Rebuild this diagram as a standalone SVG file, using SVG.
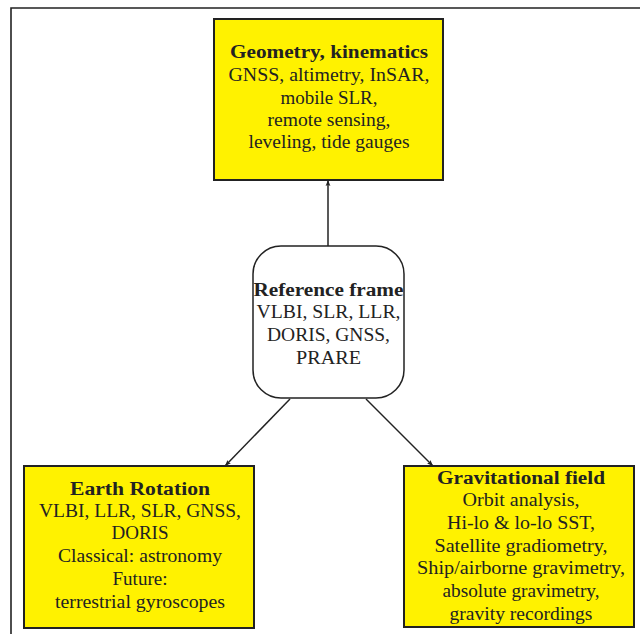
<svg xmlns="http://www.w3.org/2000/svg" width="640" height="634" viewBox="0 0 640 634">
<defs>
<style>
.box{fill:#fff200;stroke:#222;stroke-width:2}
.rbox{fill:#fff;stroke:#222;stroke-width:1.5}
text{font-family:"Liberation Serif","Times New Roman",serif;font-size:18px;fill:#222;text-anchor:middle}
.b{font-weight:bold}
.edge{stroke:#222;stroke-width:1.5;fill:none;marker-end:url(#ah)}
.frame{stroke:#222;stroke-width:1.6;fill:none}
</style>
<marker id="ah" viewBox="0 0 10 10" refX="10" refY="5" markerWidth="6" markerHeight="6" orient="auto" markerUnits="userSpaceOnUse">
<path d="M0,1 L10,5 L0,9 L2,5 Z" fill="#222"/>
</marker>
</defs>
<path class="frame" d="M640,8 H11 V634"/>
<g id="connectors">
<line class="edge" x1="328" y1="246" x2="328" y2="180"/>
<line class="edge" x1="290" y1="399" x2="225" y2="466"/>
<line class="edge" x1="366" y1="399" x2="433" y2="466"/>
</g>
<g id="geometry">
<rect class="box" x="214" y="19" width="229" height="161"/>
<text class="b" x="329" y="58" textLength="198" lengthAdjust="spacingAndGlyphs">Geometry, kinematics</text>
<text x="329" y="81" textLength="201" lengthAdjust="spacingAndGlyphs">GNSS, altimetry, InSAR,</text>
<text x="329" y="104" textLength="97" lengthAdjust="spacingAndGlyphs">mobile SLR,</text>
<text x="329" y="126" textLength="123" lengthAdjust="spacingAndGlyphs">remote sensing,</text>
<text x="329" y="148" textLength="161" lengthAdjust="spacingAndGlyphs">leveling, tide gauges</text>
</g>
<g id="reference">
<rect class="rbox" x="253" y="246" width="151" height="152" rx="28" ry="28"/>
<text class="b" x="328.5" y="296" textLength="150" lengthAdjust="spacingAndGlyphs">Reference frame</text>
<text x="328.5" y="318" textLength="144" lengthAdjust="spacingAndGlyphs">VLBI, SLR, LLR,</text>
<text x="328.5" y="341" textLength="123" lengthAdjust="spacingAndGlyphs">DORIS, GNSS,</text>
<text x="328.5" y="364" textLength="65" lengthAdjust="spacingAndGlyphs">PRARE</text>
</g>
<g id="earth">
<rect class="box" x="24" y="466" width="230" height="162"/>
<text class="b" x="140" y="495" textLength="140" lengthAdjust="spacingAndGlyphs">Earth Rotation</text>
<text x="140" y="517" textLength="202" lengthAdjust="spacingAndGlyphs">VLBI, LLR, SLR, GNSS,</text>
<text x="140" y="539" textLength="57" lengthAdjust="spacingAndGlyphs">DORIS</text>
<text x="140" y="562" textLength="164" lengthAdjust="spacingAndGlyphs">Classical: astronomy</text>
<text x="140" y="585" textLength="55" lengthAdjust="spacingAndGlyphs">Future:</text>
<text x="140" y="608" textLength="170" lengthAdjust="spacingAndGlyphs">terrestrial gyroscopes</text>
</g>
<g id="gravity">
<rect class="box" x="404" y="466" width="230" height="161"/>
<text class="b" x="521" y="484" textLength="168" lengthAdjust="spacingAndGlyphs">Gravitational field</text>
<text x="521" y="506" textLength="117" lengthAdjust="spacingAndGlyphs">Orbit analysis,</text>
<text x="521" y="529" textLength="148" lengthAdjust="spacingAndGlyphs">Hi-lo &amp; lo-lo SST,</text>
<text x="521" y="552" textLength="173" lengthAdjust="spacingAndGlyphs">Satellite gradiometry,</text>
<text x="521" y="574" textLength="208" lengthAdjust="spacingAndGlyphs">Ship/airborne gravimetry,</text>
<text x="521" y="597" textLength="157" lengthAdjust="spacingAndGlyphs">absolute gravimetry,</text>
<text x="521" y="620" textLength="143" lengthAdjust="spacingAndGlyphs">gravity recordings</text>
</g>
</svg>
